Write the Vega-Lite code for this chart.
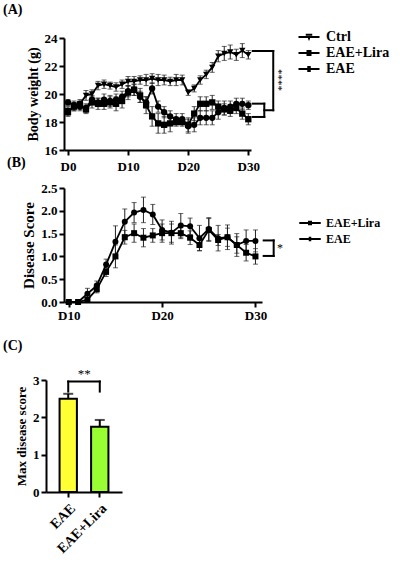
{
  "$schema": "https://vega.github.io/schema/vega-lite/v6.json",
  "padding": {"left": 3, "top": 3, "right": 3, "bottom": 3},
  "config": {
    "font": "Liberation Serif",
    "view": {"stroke": null},
    "axis": {
      "domainColor": "black", "domainWidth": 2, "tickColor": "black", "tickWidth": 2, "tickSize": 5,
      "labelFont": "Liberation Serif", "labelFontWeight": "bold", "labelFontSize": 13, "labelColor": "black",
      "titleFont": "Liberation Serif", "titleFontWeight": "bold", "titleFontSize": 14, "titleColor": "black",
      "grid": false, "labelPadding": 2
    },
    "legend": {"labelFont": "Liberation Serif", "labelFontWeight": "bold", "labelColor": "black", "padding": 0},
    "title": {"font": "Liberation Serif", "fontWeight": "bold", "fontSize": 14, "color": "black", "anchor": "start", "frame": "group"}
  },
  "datasets": {
    "weight": [
      {"day":0,"group":"Ctrl","bw":18.8,"sd":0.3},{"day":1,"group":"Ctrl","bw":19.1,"sd":0.3},{"day":2,"group":"Ctrl","bw":19.3,"sd":0.3},{"day":3,"group":"Ctrl","bw":19.9,"sd":0.35},{"day":4,"group":"Ctrl","bw":20.0,"sd":0.3},{"day":5,"group":"Ctrl","bw":20.6,"sd":0.3},{"day":6,"group":"Ctrl","bw":20.7,"sd":0.3},{"day":7,"group":"Ctrl","bw":20.6,"sd":0.25},{"day":8,"group":"Ctrl","bw":20.5,"sd":0.3},{"day":9,"group":"Ctrl","bw":20.7,"sd":0.3},{"day":10,"group":"Ctrl","bw":20.9,"sd":0.35},
      {"day":11,"group":"Ctrl","bw":20.9,"sd":0.35},{"day":12,"group":"Ctrl","bw":21.0,"sd":0.3},{"day":13,"group":"Ctrl","bw":21.0,"sd":0.4},{"day":14,"group":"Ctrl","bw":21.1,"sd":0.35},{"day":15,"group":"Ctrl","bw":21.0,"sd":0.4},{"day":16,"group":"Ctrl","bw":21.0,"sd":0.35},{"day":17,"group":"Ctrl","bw":20.9,"sd":0.3},{"day":18,"group":"Ctrl","bw":21.0,"sd":0.4},{"day":19,"group":"Ctrl","bw":21.0,"sd":0.35},{"day":20,"group":"Ctrl","bw":20.1,"sd":0.2},
      {"day":21,"group":"Ctrl","bw":20.4,"sd":0.25},{"day":22,"group":"Ctrl","bw":21.0,"sd":0.3},{"day":23,"group":"Ctrl","bw":21.4,"sd":0.3},{"day":24,"group":"Ctrl","bw":21.9,"sd":0.35},{"day":25,"group":"Ctrl","bw":22.7,"sd":0.4},{"day":26,"group":"Ctrl","bw":22.9,"sd":0.5},{"day":27,"group":"Ctrl","bw":23.0,"sd":0.5},{"day":28,"group":"Ctrl","bw":22.8,"sd":0.4},{"day":29,"group":"Ctrl","bw":23.1,"sd":0.5},{"day":30,"group":"Ctrl","bw":22.8,"sd":0.3},
      {"day":0,"group":"EAE+Lira","bw":18.7,"sd":0.3},{"day":1,"group":"EAE+Lira","bw":19.1,"sd":0.3},{"day":2,"group":"EAE+Lira","bw":19.2,"sd":0.3},{"day":3,"group":"EAE+Lira","bw":18.9,"sd":0.3},{"day":4,"group":"EAE+Lira","bw":19.4,"sd":0.4},{"day":5,"group":"EAE+Lira","bw":19.3,"sd":0.4},{"day":6,"group":"EAE+Lira","bw":19.3,"sd":0.4},{"day":7,"group":"EAE+Lira","bw":19.4,"sd":0.4},{"day":8,"group":"EAE+Lira","bw":19.3,"sd":0.5},{"day":9,"group":"EAE+Lira","bw":19.5,"sd":0.5},{"day":10,"group":"EAE+Lira","bw":20.1,"sd":0.5},
      {"day":11,"group":"EAE+Lira","bw":20.3,"sd":0.4},{"day":12,"group":"EAE+Lira","bw":19.9,"sd":0.5},{"day":13,"group":"EAE+Lira","bw":19.2,"sd":0.6},{"day":14,"group":"EAE+Lira","bw":18.4,"sd":0.7},{"day":15,"group":"EAE+Lira","bw":17.9,"sd":0.7},{"day":16,"group":"EAE+Lira","bw":17.8,"sd":0.6},{"day":17,"group":"EAE+Lira","bw":17.9,"sd":0.6},{"day":18,"group":"EAE+Lira","bw":18.0,"sd":0.3},{"day":19,"group":"EAE+Lira","bw":18.0,"sd":0.3},{"day":20,"group":"EAE+Lira","bw":17.8,"sd":0.5},
      {"day":21,"group":"EAE+Lira","bw":18.6,"sd":0.5},{"day":22,"group":"EAE+Lira","bw":19.3,"sd":0.5},{"day":23,"group":"EAE+Lira","bw":19.3,"sd":0.5},{"day":24,"group":"EAE+Lira","bw":19.4,"sd":0.5},{"day":25,"group":"EAE+Lira","bw":19.1,"sd":0.4},{"day":26,"group":"EAE+Lira","bw":18.9,"sd":0.4},{"day":27,"group":"EAE+Lira","bw":18.8,"sd":0.4},{"day":28,"group":"EAE+Lira","bw":19.0,"sd":0.4},{"day":29,"group":"EAE+Lira","bw":18.6,"sd":0.4},{"day":30,"group":"EAE+Lira","bw":18.2,"sd":0.4},
      {"day":0,"group":"EAE","bw":19.4,"sd":0.2},{"day":1,"group":"EAE","bw":19.2,"sd":0.3},{"day":2,"group":"EAE","bw":19.1,"sd":0.3},{"day":3,"group":"EAE","bw":19.0,"sd":0.3},{"day":4,"group":"EAE","bw":19.6,"sd":0.3},{"day":5,"group":"EAE","bw":19.4,"sd":0.3},{"day":6,"group":"EAE","bw":19.6,"sd":0.4},{"day":7,"group":"EAE","bw":19.5,"sd":0.4},{"day":8,"group":"EAE","bw":19.6,"sd":0.4},{"day":9,"group":"EAE","bw":19.8,"sd":0.4},{"day":10,"group":"EAE","bw":20.2,"sd":0.4},
      {"day":11,"group":"EAE","bw":20.3,"sd":0.4},{"day":12,"group":"EAE","bw":19.8,"sd":0.4},{"day":13,"group":"EAE","bw":19.4,"sd":0.4},{"day":14,"group":"EAE","bw":20.4,"sd":0.4},{"day":15,"group":"EAE","bw":19.1,"sd":0.4},{"day":16,"group":"EAE","bw":18.7,"sd":0.4},{"day":17,"group":"EAE","bw":18.4,"sd":0.4},{"day":18,"group":"EAE","bw":18.2,"sd":0.4},{"day":19,"group":"EAE","bw":18.2,"sd":0.4},{"day":20,"group":"EAE","bw":17.7,"sd":0.5},
      {"day":21,"group":"EAE","bw":17.8,"sd":0.5},{"day":22,"group":"EAE","bw":18.3,"sd":0.5},{"day":23,"group":"EAE","bw":18.3,"sd":0.5},{"day":24,"group":"EAE","bw":18.3,"sd":0.5},{"day":25,"group":"EAE","bw":18.7,"sd":0.5},{"day":26,"group":"EAE","bw":19.0,"sd":0.5},{"day":27,"group":"EAE","bw":19.1,"sd":0.4},{"day":28,"group":"EAE","bw":19.3,"sd":0.4},{"day":29,"group":"EAE","bw":19.3,"sd":0.4},{"day":30,"group":"EAE","bw":19.2,"sd":0.3}
    ],
    "bracketA": [
      {"day":30.73,"day2":34.15,"bw":23.07,"bw2":23.07},
      {"day":34.15,"day2":34.15,"bw":23.07,"bw2":18.84},
      {"day":32.66,"day2":34.15,"bw":18.84,"bw2":18.84},
      {"day":30.73,"day2":32.66,"bw":19.31,"bw2":19.31},
      {"day":30.73,"day2":32.66,"bw":18.36,"bw2":18.36},
      {"day":32.66,"day2":32.66,"bw":19.31,"bw2":18.36}
    ],
    "score": [
      {"day":10,"group":"EAE","sc":0,"sd":0},{"day":11,"group":"EAE","sc":0,"sd":0},{"day":12,"group":"EAE","sc":0.18,"sd":0.12},{"day":13,"group":"EAE","sc":0.36,"sd":0.1},{"day":14,"group":"EAE","sc":0.82,"sd":0.12},{"day":15,"group":"EAE","sc":1.32,"sd":0.35},{"day":16,"group":"EAE","sc":1.76,"sd":0.28},{"day":17,"group":"EAE","sc":1.96,"sd":0.22},{"day":18,"group":"EAE","sc":2.02,"sd":0.28},{"day":19,"group":"EAE","sc":1.92,"sd":0.22},{"day":20,"group":"EAE","sc":1.58,"sd":0.22},
      {"day":21,"group":"EAE","sc":1.52,"sd":0.25},{"day":22,"group":"EAE","sc":1.68,"sd":0.26},{"day":23,"group":"EAE","sc":1.66,"sd":0.18},{"day":24,"group":"EAE","sc":1.4,"sd":0.28},{"day":25,"group":"EAE","sc":1.6,"sd":0.25},{"day":26,"group":"EAE","sc":1.4,"sd":0.28},{"day":27,"group":"EAE","sc":1.42,"sd":0.27},{"day":28,"group":"EAE","sc":1.25,"sd":0.25},{"day":29,"group":"EAE","sc":1.34,"sd":0.24},{"day":30,"group":"EAE","sc":1.34,"sd":0.24},
      {"day":10,"group":"EAE+Lira","sc":0,"sd":0},{"day":11,"group":"EAE+Lira","sc":0,"sd":0},{"day":12,"group":"EAE+Lira","sc":0.05,"sd":0.05},{"day":13,"group":"EAE+Lira","sc":0.28,"sd":0.08},{"day":14,"group":"EAE+Lira","sc":0.66,"sd":0.1},{"day":15,"group":"EAE+Lira","sc":1.0,"sd":0.25},{"day":16,"group":"EAE+Lira","sc":1.42,"sd":0.15},{"day":17,"group":"EAE+Lira","sc":1.51,"sd":0.2},{"day":18,"group":"EAE+Lira","sc":1.41,"sd":0.2},{"day":19,"group":"EAE+Lira","sc":1.46,"sd":0.15},{"day":20,"group":"EAE+Lira","sc":1.51,"sd":0.2},
      {"day":21,"group":"EAE+Lira","sc":1.51,"sd":0.2},{"day":22,"group":"EAE+Lira","sc":1.51,"sd":0.12},{"day":23,"group":"EAE+Lira","sc":1.41,"sd":0.15},{"day":24,"group":"EAE+Lira","sc":1.25,"sd":0.12},{"day":25,"group":"EAE+Lira","sc":1.58,"sd":0.25},{"day":26,"group":"EAE+Lira","sc":1.36,"sd":0.12},{"day":27,"group":"EAE+Lira","sc":1.42,"sd":0.2},{"day":28,"group":"EAE+Lira","sc":1.25,"sd":0.18},{"day":29,"group":"EAE+Lira","sc":1.08,"sd":0.18},{"day":30,"group":"EAE+Lira","sc":1.0,"sd":0.17}
    ],
    "bracketB": [
      {"day":30.88,"day2":31.95,"sc":1.35,"sc2":1.35},
      {"day":30.88,"day2":31.95,"sc":1.01,"sc2":1.01},
      {"day":31.95,"day2":31.95,"sc":1.35,"sc2":1.01}
    ],
    "maxscore": [
      {"g":"EAE","v":2.5,"e":0.13},
      {"g":"EAE+Lira","v":1.75,"e":0.18}
    ]
  },
  "concat": [
    {
      "concat": [
        {
          "title": {"text": "(A)", "dx": -61, "offset": 13},
          "width": 187,
          "height": 112,
          "data": {"name": "weight"},
          "encoding": {
            "x": {"field": "day", "type": "quantitative",
              "scale": {"domain": [-0.66, 30.45], "nice": false, "zero": false},
              "axis": {"title": null, "values": [0, 10, 20, 30], "labelExpr": "'D' + datum.value", "labelPadding": 5}},
            "y": {"field": "bw", "type": "quantitative",
              "scale": {"domain": [16, 24], "nice": false, "zero": false},
              "axis": {"title": "Body weight (g)", "values": [16, 18, 20, 22, 24]}}
          },
          "layer": [
            {"mark": {"type": "errorbar", "ticks": {"size": 5}, "thickness": 1, "color": "#222"},
             "encoding": {"yError": {"field": "sd"}, "detail": {"field": "group"}}},
            {"mark": {"type": "line", "color": "black", "strokeWidth": 1.8},
             "encoding": {"detail": {"field": "group"}}},
            {"mark": {"type": "point", "filled": true, "color": "black", "size": 40, "opacity": 1},
             "encoding": {"shape": {"field": "group", "type": "nominal",
               "scale": {"domain": ["Ctrl", "EAE+Lira", "EAE"], "range": ["triangle-down", "square", "circle"]},
               "legend": null}}},
            {"data": {"values": []},
             "mark": {"type": "point", "filled": false, "color": "black", "strokeWidth": 2, "opacity": 1},
             "encoding": {"shape": {"field": "group", "type": "nominal",
               "scale": {"domain": ["Ctrl", "EAE+Lira", "EAE"],
                 "range": ["M-2.1,0H2.1M-0.65,-0.45H0.65M-0.2,0.3H0.2M-0.06,0.55H0.06", "M-2.1,0H2.1M-0.5,-0.4H0.5M-0.5,0.4H0.5", "M-2.1,0H2.1M-0.35,-0.4H0.35M-0.35,0.4H0.35"]},
               "legend": {"orient": "none", "legendX": 233, "legendY": -8, "title": null, "labelFontSize": 14,
                 "symbolSize": 100, "symbolOffset": 5, "labelOffset": 10, "rowPadding": 2,
                 "symbolOpacity": 1, "symbolStrokeColor": "black", "symbolStrokeWidth": 2}}}},
            {"data": {"name": "bracketA"},
             "mark": {"type": "rule", "color": "black", "strokeWidth": 2, "strokeCap": "square"},
             "encoding": {"x2": {"field": "day2"}, "y2": {"field": "bw2"}}},
            {"data": {"values": [{"day": 35.0, "bw": 21.0, "label": "****"}]},
             "mark": {"type": "text", "angle": 90, "fontSize": 11, "color": "black"},
             "encoding": {"text": {"field": "label"}}}
          ],
          "resolve": {"scale": {"shape": "independent"}, "legend": {"shape": "independent"}}
        },
        {
          "title": {"text": "(B)", "dx": -57, "offset": 12},
          "width": 198,
          "height": 114,
          "data": {"name": "score"},
          "encoding": {
            "x": {"field": "day", "type": "quantitative",
              "scale": {"domain": [9.49, 30.7], "nice": false, "zero": false},
              "axis": {"title": null, "values": [10, 20, 30], "labelExpr": "'D' + datum.value", "labelPadding": 2}},
            "y": {"field": "sc", "type": "quantitative",
              "scale": {"domain": [0, 2.5], "nice": false},
              "axis": {"title": "Disease Score", "titleFontSize": 15, "values": [0, 0.5, 1, 1.5, 2, 2.5], "format": ".1f"}}
          },
          "layer": [
            {"mark": {"type": "errorbar", "ticks": {"size": 5}, "thickness": 1, "color": "#222"},
             "encoding": {"yError": {"field": "sd"}, "detail": {"field": "group"}}},
            {"mark": {"type": "line", "color": "black", "strokeWidth": 1.8},
             "encoding": {"detail": {"field": "group"}}},
            {"mark": {"type": "point", "filled": true, "color": "black", "size": 36, "opacity": 1},
             "encoding": {"shape": {"field": "group", "type": "nominal",
               "scale": {"domain": ["EAE+Lira", "EAE"], "range": ["square", "circle"]},
               "legend": null}}},
            {"data": {"values": []},
             "mark": {"type": "point", "filled": false, "color": "black", "strokeWidth": 2, "opacity": 1},
             "encoding": {"shape": {"field": "group", "type": "nominal",
               "scale": {"domain": ["EAE+Lira", "EAE"],
                 "range": ["M-2.15,0H2.15M-0.4,-0.25H0.4M-0.4,0.25H0.4", "M-2.15,0H2.15M-0.25,-0.25H0.25M-0.25,0.25H0.25"]},
               "legend": {"orient": "none", "legendX": 235, "legendY": 29, "title": null, "labelFontSize": 12,
                 "symbolSize": 100, "symbolOffset": 5, "labelOffset": 10, "rowPadding": 4,
                 "symbolOpacity": 1, "symbolStrokeColor": "black", "symbolStrokeWidth": 2}}}},
            {"data": {"name": "bracketB"},
             "mark": {"type": "rule", "color": "black", "strokeWidth": 2, "strokeCap": "square"},
             "encoding": {"x2": {"field": "day2"}, "y2": {"field": "sc2"}}},
            {"data": {"values": [{"day": 32.3, "sc": 1.18, "label": "*"}]},
             "mark": {"type": "text", "align": "left", "fontSize": 12, "color": "black"},
             "encoding": {"text": {"field": "label"}}}
          ],
          "resolve": {"scale": {"shape": "independent"}, "legend": {"shape": "independent"}}
        }
      ],
      "columns": 1,
      "align": "none",
      "spacing": -17,
      "resolve": {"scale": {"shape": "independent", "color": "independent"}, "legend": {"shape": "independent"}}
    },
    {
      "title": {"text": "(C)", "dx": -61, "offset": 15},
      "width": 58,
      "height": 112,
      "data": {"name": "maxscore"},
      "encoding": {
        "x": {"field": "g", "type": "nominal",
          "scale": {"domain": ["EAE", "EAE+Lira"], "range": [-18, 58], "paddingInner": 0.45, "paddingOuter": 0.43},
          "axis": {"title": null, "labelAngle": -45, "labelPadding": 4, "labelFontSize": 14}},
        "y": {"field": "v", "type": "quantitative",
          "scale": {"domain": [0, 3], "nice": false},
          "axis": {"title": "Max disease score", "titleFontSize": 13, "values": [0, 1, 2, 3], "offset": 18}}
      },
      "layer": [
        {"mark": {"type": "errorbar", "ticks": {"size": 10}, "thickness": 2, "color": "black"},
         "encoding": {"yError": {"field": "e"}}},
        {"mark": {"type": "bar", "stroke": "black", "strokeWidth": 2},
         "encoding": {"color": {"field": "g", "type": "nominal",
           "scale": {"domain": ["EAE", "EAE+Lira"], "range": ["#ffff33", "#99ff33"]}, "legend": null}}},
        {"data": {"values": [{"g": "EAE", "v": 2.69, "v2": 2.96}, {"g": "EAE+Lira", "v": 2.69, "v2": 2.96}]},
         "mark": {"type": "rule", "color": "black", "strokeWidth": 2, "strokeCap": "square"},
         "encoding": {"y2": {"field": "v2"}}},
        {"data": {"values": [{"g": "EAE", "g2": "EAE+Lira", "v": 2.96}]},
         "mark": {"type": "rule", "color": "black", "strokeWidth": 2, "strokeCap": "square"},
         "encoding": {"x2": {"field": "g2"}}},
        {"data": {"values": [{"g": "EAE", "v": 2.98, "label": "**"}]},
         "mark": {"type": "text", "dx": 16, "baseline": "bottom", "fontSize": 13, "color": "black"},
         "encoding": {"text": {"field": "label"}}}
      ]
    }
  ],
  "columns": 1,
  "align": "none",
  "spacing": 16,
  "resolve": {"scale": {"shape": "independent", "color": "independent"}, "legend": {"shape": "independent"}}
}
